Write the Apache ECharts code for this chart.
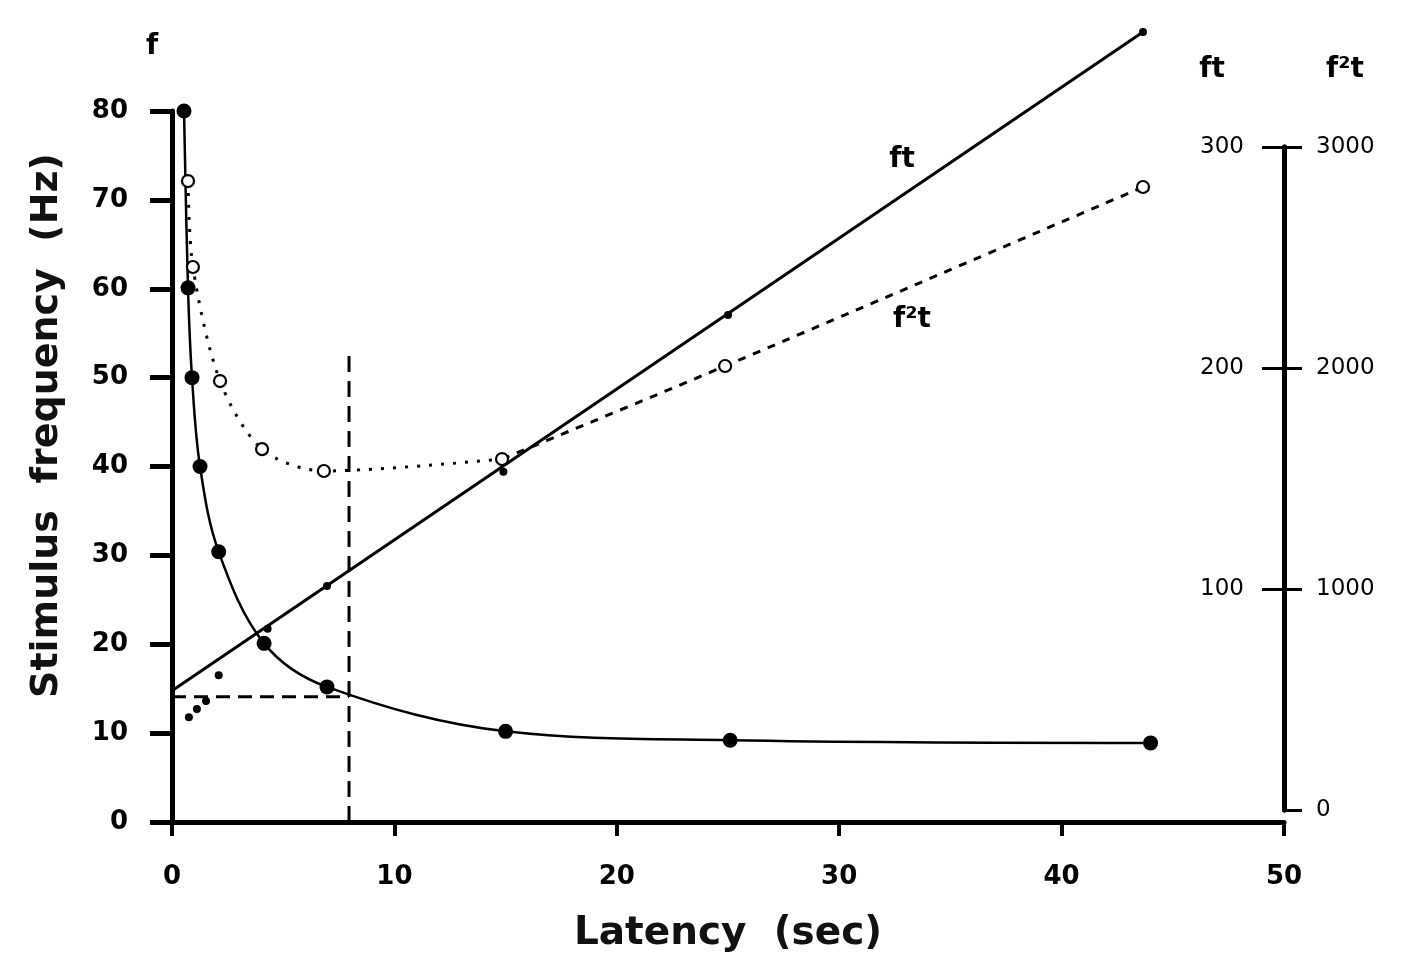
<!DOCTYPE html>
<html>
<head>
<meta charset="utf-8">
<script src="https://cdn.jsdelivr.net/npm/echarts@6/dist/echarts.min.js"></script>
<style>
html,body{margin:0;padding:0;background:#fff;}
#chart{width:1406px;height:965px;}
</style>
</head>
<body>
<div id="chart"></div>
<script>
// ---- data ----
// Stimulus frequency f (Hz) vs latency (s), filled circles + fitted curve
const fLatency = [0.54, 0.72, 0.9, 1.26, 2.1, 4.14, 6.97, 15.0, 25.1, 44.0];
const fHz      = [80, 60.1, 50, 40, 30.4, 20.1, 15.2, 10.2, 9.2, 8.9];
// f^2 t (right outer axis, 0-3000), open circles
const f2tLatency = [0.72, 0.94, 2.16, 4.05, 6.83, 14.84, 24.87, 43.66];
const f2tValues  = [2846, 2457, 1941, 1633, 1534, 1588, 2009, 2819];
// f t (right inner axis, 0-300), small dots
const ftLatency = [0.76, 1.12, 1.53, 2.1, 4.3, 6.97, 14.9, 25.0, 43.66];
const ftValues  = [42, 45.7, 49.3, 61, 82, 101.4, 153, 224, 352];
// fitted straight line for f t
const ftFitLatency = [0, 43.66];
const ftFitValues  = [54, 352];
// guide (dashed) lines
const guideLatency = 7.96;
const guideHz = 14.1;
const guideTopHz = 52.9;
// axis ticks
const xTicks = [0, 10, 20, 30, 40, 50];
const fTicks = [0, 10, 20, 30, 40, 50, 60, 70, 80];
const ftTicks = [0, 100, 200, 300];
const f2tTicks = [0, 1000, 2000, 3000];

const zip = (a, b) => a.map((v, i) => [v, b[i]]);
const FONT = 'DejaVu Sans';
const BLACK = '#000';

const split = f2tLatency.indexOf(14.84);
const f2tPts = zip(f2tLatency, f2tValues);
const plain = v => String(v);

const chart = echarts.init(document.getElementById('chart'), null, {renderer: 'canvas'});
chart.setOption({
  backgroundColor: '#fff',
  animation: false,
  grid: [
    {left: 172, right: 122, top: 111, bottom: 143},
    {left: 172, right: 122, top: 147, bottom: 155}
  ],
  xAxis: [
    {
      gridIndex: 0, type: 'value', min: xTicks[0], max: xTicks[xTicks.length - 1], interval: 10,
      name: 'Latency  (sec)', nameLocation: 'middle', nameGap: 92,
      nameTextStyle: {fontFamily: FONT, fontSize: 39, fontWeight: 'bold', color: '#111'},
      axisLine: {onZero: false, lineStyle: {color: BLACK, width: 5}},
      axisTick: {length: 14, lineStyle: {color: BLACK, width: 4}},
      axisLabel: {margin: 42, fontFamily: FONT, fontSize: 26, fontWeight: 'bold', color: BLACK, formatter: plain},
      splitLine: {show: false}
    },
    {gridIndex: 1, type: 'value', min: 0, max: 50, show: false, axisLine: {onZero: false}}
  ],
  yAxis: [
    {
      gridIndex: 0, type: 'value', min: fTicks[0], max: fTicks[fTicks.length - 1], interval: 10,
      name: 'Stimulus  frequency  (Hz)', nameLocation: 'middle', nameGap: 106, nameRotate: 90,
      nameTextStyle: {fontFamily: FONT, fontSize: 38, fontWeight: 'bold', color: '#111', padding: [0, 0, 0, 82]},
      axisLine: {onZero: false, lineStyle: {color: BLACK, width: 5}},
      axisTick: {length: 22, lineStyle: {color: BLACK, width: 5}},
      axisLabel: {margin: 44, fontFamily: FONT, fontSize: 26, fontWeight: 'bold', color: BLACK, formatter: plain},
      splitLine: {show: false}
    },
    {
      gridIndex: 1, type: 'value', position: 'right', min: ftTicks[0], max: ftTicks[ftTicks.length - 1], interval: 100,
      axisLine: {show: true, onZero: false, lineStyle: {color: BLACK, width: 5}},
      axisTick: {inside: true, length: 22, lineStyle: {color: BLACK, width: 3}},
      axisLabel: {inside: true, margin: 40, showMinLabel: false, fontFamily: FONT, fontSize: 23, color: BLACK, formatter: plain},
      splitLine: {show: false}
    },
    {
      gridIndex: 1, type: 'value', position: 'right', min: f2tTicks[0], max: f2tTicks[f2tTicks.length - 1], interval: 1000,
      axisLine: {show: true, onZero: false, lineStyle: {color: BLACK, width: 5}},
      axisTick: {length: 18, lineStyle: {color: BLACK, width: 3}},
      axisLabel: {margin: 32, fontFamily: FONT, fontSize: 23, color: BLACK, formatter: plain},
      splitLine: {show: false}
    }
  ],
  graphic: [
    {type: 'text', x: 152, y: 47, style: {text: 'f', font: 'bold 28px "DejaVu Sans"', fill: BLACK, textAlign: 'center', textVerticalAlign: 'middle'}},
    {type: 'text', x: 1212, y: 70, style: {text: 'ft', font: 'bold 28px "DejaVu Sans"', fill: BLACK, textAlign: 'center', textVerticalAlign: 'middle'}},
    {type: 'text', x: 1345, y: 70, style: {text: 'f²t', font: 'bold 28px "DejaVu Sans"', fill: BLACK, textAlign: 'center', textVerticalAlign: 'middle'}},
    {type: 'text', x: 902, y: 160, style: {text: 'ft', font: 'bold 28px "DejaVu Sans"', fill: BLACK, textAlign: 'center', textVerticalAlign: 'middle'}},
    {type: 'text', x: 912, y: 320, style: {text: 'f²t', font: 'bold 28px "DejaVu Sans"', fill: BLACK, textAlign: 'center', textVerticalAlign: 'middle'}}
  ],
  series: [
    // guide dashed lines
    {
      type: 'line', xAxisIndex: 0, yAxisIndex: 0, symbol: 'none', silent: true,
      data: [[0, guideHz], [guideLatency, guideHz]],
      lineStyle: {color: BLACK, width: 3, type: [14, 8]}
    },
    {
      type: 'line', xAxisIndex: 0, yAxisIndex: 0, symbol: 'none', silent: true,
      data: [[guideLatency, 0], [guideLatency, guideTopHz]],
      lineStyle: {color: BLACK, width: 3, type: [16, 9]}
    },
    // f curve with filled circles
    {
      type: 'line', xAxisIndex: 0, yAxisIndex: 0, smooth: 0.35,
      data: zip(fLatency, fHz),
      symbol: 'circle', symbolSize: 15,
      itemStyle: {color: BLACK, opacity: 1},
      lineStyle: {color: BLACK, width: 2.5},
      z: 5
    },
    // f^2 t dotted part
    {
      type: 'line', xAxisIndex: 1, yAxisIndex: 2, smooth: 0.3, clip: false,
      data: f2tPts.slice(0, split + 1), symbol: 'none',
      lineStyle: {color: BLACK, width: 3, type: [3, 9]}
    },
    // f^2 t dashed part
    {
      type: 'line', xAxisIndex: 1, yAxisIndex: 2, smooth: 0.3, clip: false,
      data: f2tPts.slice(split), symbol: 'none',
      lineStyle: {color: BLACK, width: 3, type: [8, 8]}
    },
    // f^2 t open circles
    {
      type: 'scatter', xAxisIndex: 1, yAxisIndex: 2, clip: false,
      data: f2tPts, symbol: 'circle', symbolSize: 12,
      itemStyle: {color: '#fff', borderColor: BLACK, borderWidth: 2.2, opacity: 1},
      z: 6
    },
    // f t fitted line
    {
      type: 'line', xAxisIndex: 1, yAxisIndex: 1, clip: false, symbol: 'none',
      data: zip(ftFitLatency, ftFitValues),
      lineStyle: {color: BLACK, width: 3}
    },
    // f t dots
    {
      type: 'scatter', xAxisIndex: 1, yAxisIndex: 1, clip: false,
      data: zip(ftLatency, ftValues), symbol: 'circle', symbolSize: 8,
      itemStyle: {color: BLACK, opacity: 1}, z: 6
    }
  ]
});
</script>
</body>
</html>
